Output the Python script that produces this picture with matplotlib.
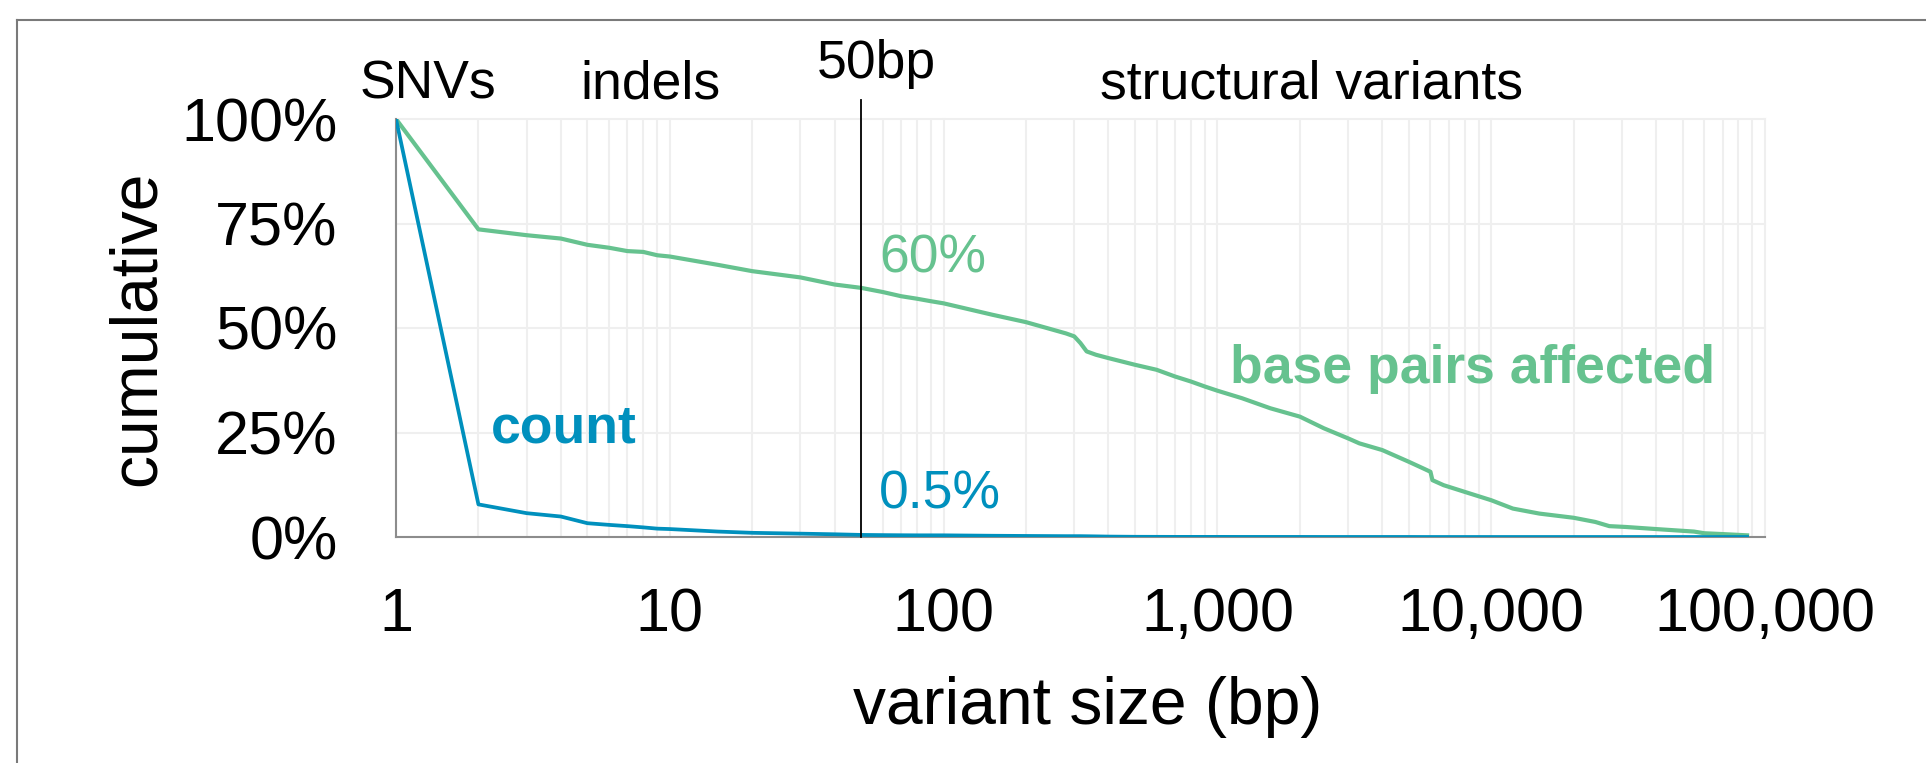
import numpy as np
import matplotlib
matplotlib.use("Agg")
import matplotlib.pyplot as plt
from matplotlib.lines import Line2D
from matplotlib.ticker import LogLocator, NullFormatter

plt.rcParams['font.family'] = ['Liberation Sans', 'DejaVu Sans']

#region data
# variant size (bp) where the curves were read off
size_bp = [1, 2, 3, 4, 5, 6, 7, 8, 9, 10, 15, 20, 30, 40, 50, 60, 70, 80, 90, 100,
           150, 200, 280, 300, 316, 333, 360, 400, 500, 600, 700, 800, 900, 1000,
           1230, 1560, 2000, 2450, 3000, 3300, 4000, 5000, 5650, 6000, 6100, 6700,
           8000, 10000, 12000, 15000, 20000, 24000, 27000, 31000, 40000, 55000,
           60000, 70000, 86000]

# cumulative share of base pairs affected
bp_affected = [1.0, 0.736, 0.722, 0.714, 0.699, 0.692, 0.684, 0.682, 0.674, 0.671,
               0.651, 0.636, 0.621, 0.604, 0.596, 0.586, 0.576, 0.570, 0.564, 0.559,
               0.532, 0.514, 0.487, 0.480, 0.464, 0.444, 0.436, 0.428, 0.412, 0.400,
               0.384, 0.372, 0.360, 0.350, 0.332, 0.308, 0.288, 0.260, 0.236, 0.224,
               0.208, 0.180, 0.164, 0.156, 0.136, 0.124, 0.108, 0.088, 0.068, 0.056,
               0.046, 0.036, 0.026, 0.024, 0.019, 0.013, 0.009, 0.007, 0.004]

# cumulative share of variant count
count_share = [1.0, 0.078, 0.057, 0.049, 0.033, 0.029, 0.026, 0.023, 0.020, 0.019,
               0.013, 0.010, 0.008, 0.0065, 0.005, 0.0045, 0.0042, 0.004, 0.004, 0.004,
               0.003, 0.0025, 0.002, 0.002, 0.002, 0.0018, 0.0015, 0.001, 0.0005, 0.0004,
               0.0003, 0.0003, 0.0003, 0.0003, 0.0002, 0.0002, 0.0002, 0.0001, 0.0001,
               0.0001, 0.0001, 0.0001, 0.0, 0.0, 0.0, 0.0, 0.0, 0.0, 0.0, 0.0, 0.0, 0.0,
               0.0, 0.0, 0.0, 0.0, 0.0, 0.0, 0.0]

x_ticks = [1, 10, 100, 1000, 10000, 100000]
x_tick_labels = ['1', '10', '100', '1,000', '10,000', '100,000']
y_ticks = [0, 0.25, 0.5, 0.75, 1.0]
y_tick_labels = ['0%', '25%', '50%', '75%', '100%']

sv_threshold = 50
bp_at_threshold = '60%'
count_at_threshold = '0.5%'
#endregion

GREEN = '#66c28f'
BLUE = '#0090bd'
GRID = '#efefef'

W, H = 1926, 763
fig = plt.figure(figsize=(W / 100, H / 100), dpi=100)

# plot area in pixels: x 396..1765, y 119..537 (from top)
ax = fig.add_axes([396 / W, 1 - 537 / H, (1765 - 396) / W, (537 - 119) / H])

ax.plot(size_bp, bp_affected, color=GREEN, lw=3.0, solid_joinstyle='round', zorder=3)
ax.plot(size_bp, count_share, color=BLUE, lw=2.7, solid_joinstyle='round', zorder=4)

ax.set_xscale('log')
ax.set_xlim(1, 100000)
ax.set_ylim(0, 1)

ax.set_xticks(x_ticks)
ax.set_xticklabels(x_tick_labels)
ax.xaxis.set_minor_locator(LogLocator(base=10, subs=np.arange(2, 10)))
ax.xaxis.set_minor_formatter(NullFormatter())
ax.set_yticks(y_ticks)
ax.set_yticklabels(y_tick_labels)

ax.tick_params(axis='both', which='both', length=0, labelsize=44)
ax.tick_params(axis='x', pad=36)
ax.tick_params(axis='y', pad=42)

ax.grid(True, which='both', axis='x', color=GRID, lw=1.5)
ax.grid(True, which='major', axis='y', color=GRID, lw=1.5)
ax.set_axisbelow(True)
for gl in ax.get_xgridlines() + ax.get_ygridlines():
    gl.set_clip_on(False)

for side in ['top', 'right']:
    ax.spines[side].set_visible(False)
for side in ['left', 'bottom']:
    ax.spines[side].set_color('#8c8c8c')
    ax.spines[side].set_linewidth(1.5)

# 50bp boundary
ax.plot([sv_threshold, sv_threshold], [0, 1.045], color='black', lw=1.3,
        clip_on=False, zorder=5)

# category labels across the top
ax.text(1.31, 1.050, 'SNVs', fontsize=38.5, ha='center', va='baseline')
ax.text(8.47, 1.050, 'indels', fontsize=38.5, ha='center', va='baseline')
ax.text(57, 1.098, '50bp', fontsize=38.5, ha='center', va='baseline')
ax.text(2198, 1.050, 'structural variants', fontsize=38.5, ha='center', va='baseline')

# series labels
ax.text(58, 0.632, bp_at_threshold, fontsize=38.5, color=GREEN, ha='left', va='baseline')
ax.text(58, 0.067, count_at_threshold, fontsize=38.5, color=BLUE, ha='left', va='baseline')
ax.text(2.22, 0.227, 'count', fontsize=38.5, fontweight='bold', color=BLUE,
        ha='left', va='baseline')
ax.text(1112, 0.368, 'base pairs affected', fontsize=38.5, fontweight='bold',
        color=GREEN, ha='left', va='baseline')

# axis titles
fig.text(138 / W, 1 - 328 / H, 'cumulative', fontsize=47.5, rotation=90,
         ha='center', va='center')
fig.text(1088 / W, 1 - 724 / H, 'variant size (bp)', fontsize=47.5,
         ha='center', va='baseline')

# outer frame (only top and left edges are visible)
fig.add_artist(Line2D([17 / W, 17 / W], [0, 1 - 20 / H], transform=fig.transFigure,
                      color='#7a7a7a', lw=1.5))
fig.add_artist(Line2D([17 / W, 1], [1 - 20 / H, 1 - 20 / H], transform=fig.transFigure,
                      color='#7a7a7a', lw=1.5))

fig.savefig('out.png', dpi=100)
